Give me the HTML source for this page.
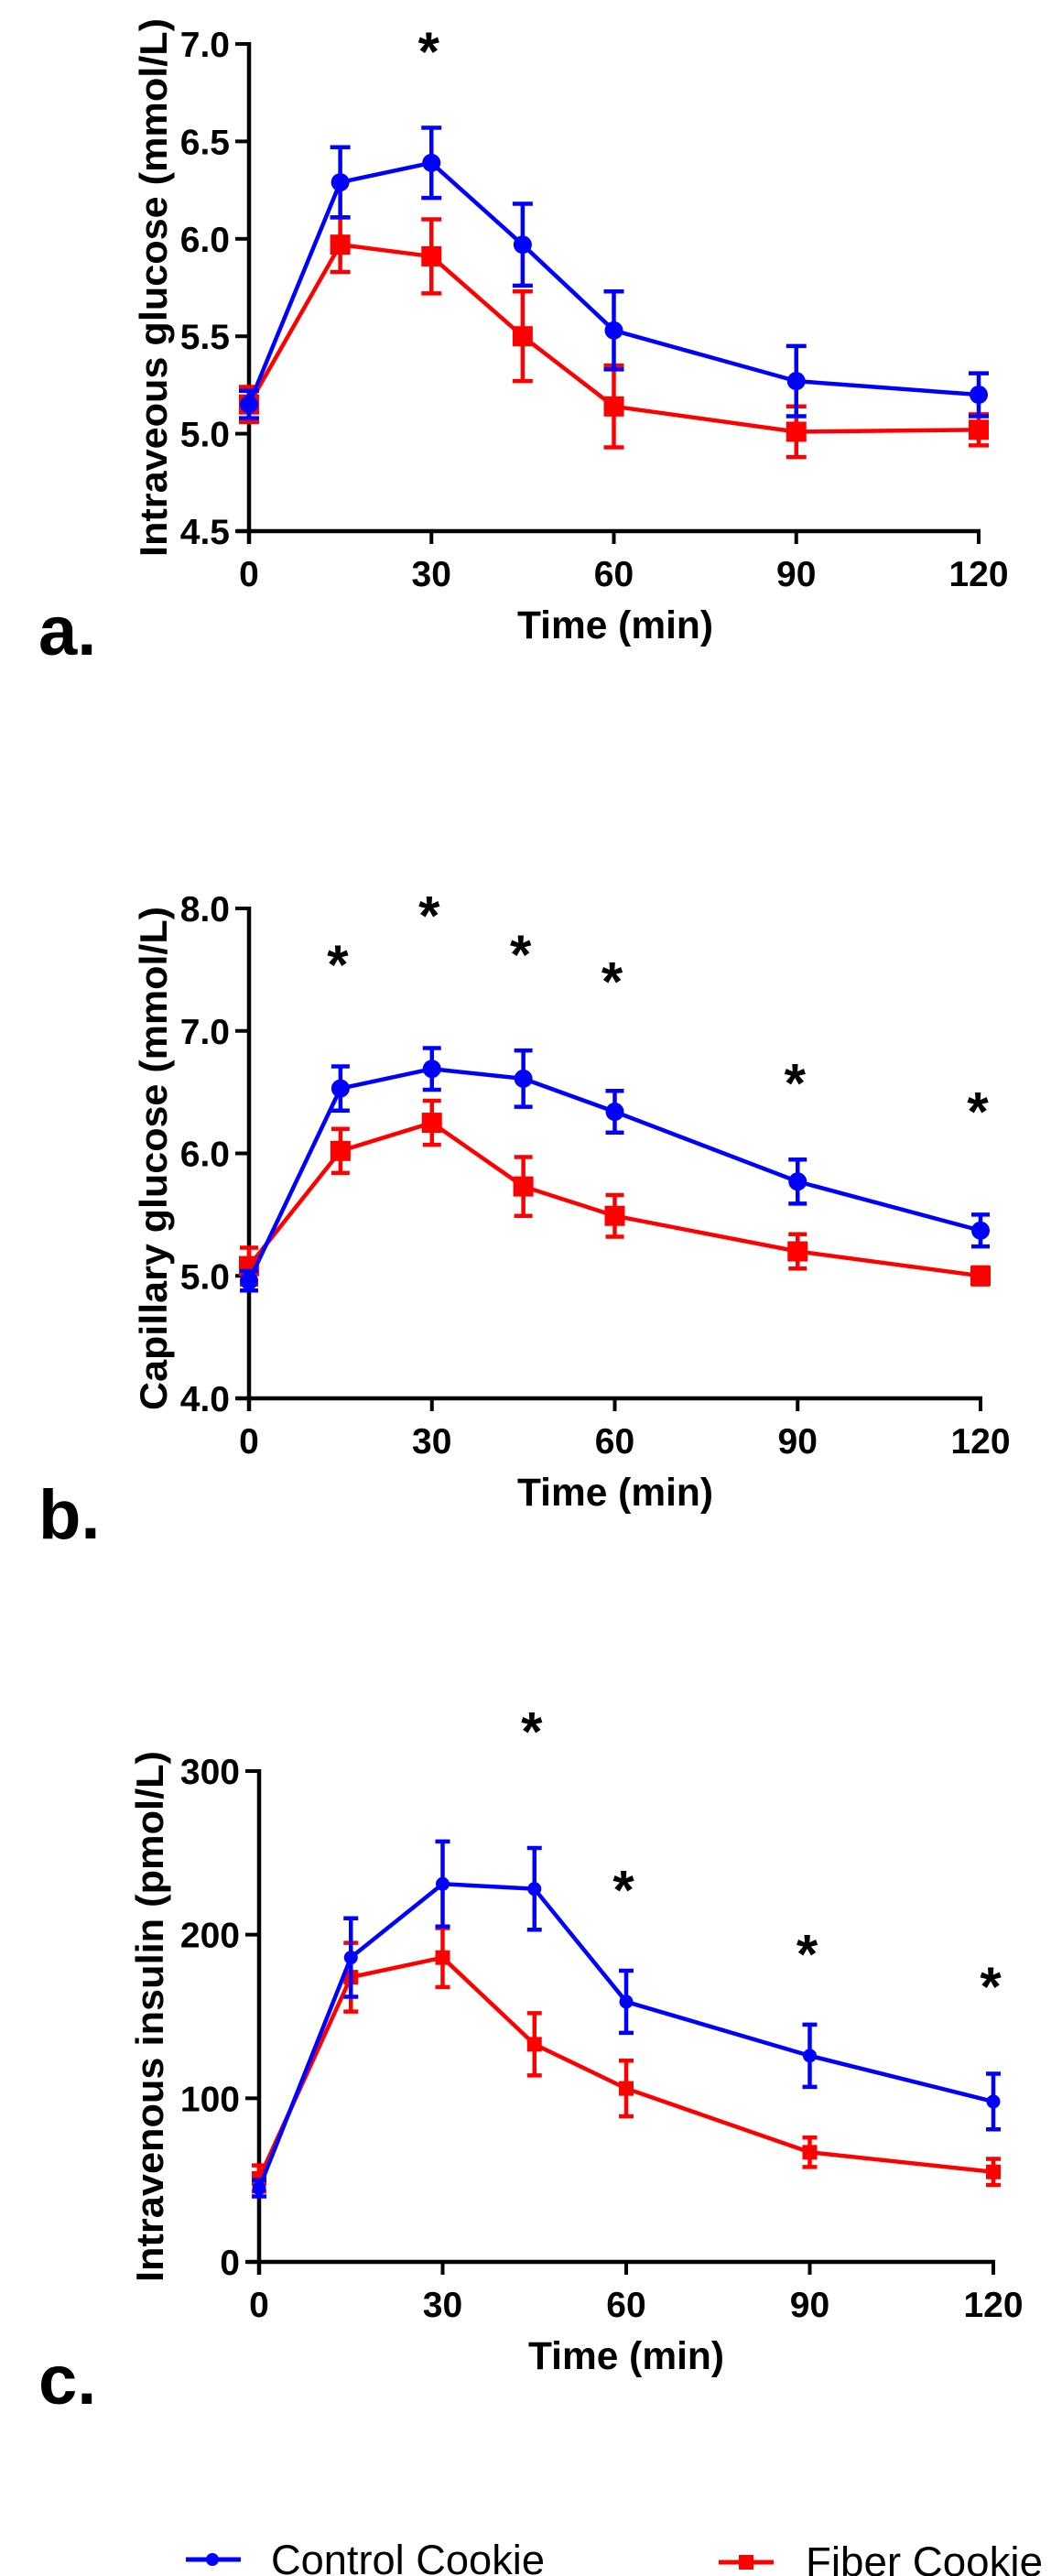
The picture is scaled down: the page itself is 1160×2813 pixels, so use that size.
<!DOCTYPE html>
<html><head><meta charset="utf-8"><style>
html,body{margin:0;padding:0;background:#fff;width:1160px;height:2813px;overflow:hidden}
svg{display:block}
text{font-family:"Liberation Sans",Arial,sans-serif}
</style></head><body>
<svg id="fig" width="1160" height="2813" viewBox="0 0 1160 2813" xmlns="http://www.w3.org/2000/svg"></svg>
<script>
// ---- data ----
const times = [0, 15, 30, 45, 60, 90, 120];
const xTicks = [0, 30, 60, 90, 120];
// panel a: intravenous glucose (mmol/L)
const aControl = [5.15, 6.29, 6.39, 5.97, 5.53, 5.27, 5.20];
const aControlErr = [0.07, 0.18, 0.18, 0.21, 0.20, 0.18, 0.11];
const aFiber = [5.15, 5.97, 5.91, 5.50, 5.14, 5.01, 5.02];
const aFiberErr = [0.09, 0.14, 0.19, 0.23, 0.21, 0.13, 0.08];
const aTicks = [4.5, 5.0, 5.5, 6.0, 6.5, 7.0];
const aTickLabels = ["4.5", "5.0", "5.5", "6.0", "6.5", "7.0"];
const aStars = [30];
// panel b: capillary glucose (mmol/L)
const bControl = [4.96, 6.53, 6.69, 6.61, 6.34, 5.77, 5.37];
const bControlErr = [0.08, 0.18, 0.17, 0.23, 0.17, 0.18, 0.13];
const bFiber = [5.08, 6.02, 6.25, 5.73, 5.49, 5.20, 5.00];
const bFiberErr = [0.15, 0.18, 0.18, 0.24, 0.17, 0.14, 0.07];
const bTicks = [4, 5, 6, 7, 8];
const bTickLabels = ["4.0", "5.0", "6.0", "7.0", "8.0"];
const bStars = [15, 30, 45, 60, 90, 120];
const bStarValues = [7.62, 8.02, 7.70, 7.48, 6.65, 6.42];
// panel c: intravenous insulin (pmol/L)
const cControl = [45, 186, 231, 228, 159, 126, 98];
const cControlErr = [5, 24, 26, 25, 19, 19, 17];
const cFiber = [51, 174, 186, 133, 106, 67, 55];
const cFiberErr = [8, 21, 18, 19, 17, 9, 8];
const cTicks = [0, 100, 200, 300];
const cTickLabels = ["0", "100", "200", "300"];
const cStars = [45, 60, 90, 120];
const cStarValues = [330, 233, 194, 174];

const NS = "http://www.w3.org/2000/svg";
const svg = document.getElementById("fig");
function mk(tag, attrs, parent) {
  const e = document.createElementNS(NS, tag);
  for (const k in attrs) e.setAttribute(k, attrs[k]);
  (parent || svg).appendChild(e);
  return e;
}

function panel(cfg) {
  const g = mk("g", {});
  
  
  const X = t => cfg.x0 + (t - 0) / 120 * (cfg.x1 - cfg.x0);
  const Y = v => cfg.yb + (v - cfg.vmin) / (cfg.vmax - cfg.vmin) * (cfg.yt - cfg.yb);
  const ya = mk("line", {x1: cfg.x0, y1: Y(cfg.vmax) - 2, x2: cfg.x0, y2: cfg.yb + 14, stroke: "#000", "stroke-width": 4.5}, g);
  
  
  const xa = mk("line", {x1: cfg.x0 - 14, y1: cfg.yb, x2: cfg.x1 + 2, y2: cfg.yb, stroke: "#000", "stroke-width": 4.5}, g);
  
  
  cfg.ticks.forEach((v, i) => {
    const y = Y(v);
    mk("line", {x1: cfg.x0 - 15, y1: y, x2: cfg.x0, y2: y, stroke: "#000", "stroke-width": 4}, g);
    const t = mk("text", {x: cfg.x0 - 21, y: y + 14, "text-anchor": "end", "font-size": 39, "font-weight": "bold"}, g);
    
    
    t.textContent = cfg.tickLabels[i];
  });
  xTicks.forEach(tk => {
    const x = X(tk);
    mk("line", {x1: x, y1: cfg.yb, x2: x, y2: cfg.yb + 14, stroke: "#000", "stroke-width": 4}, g);
    const t = mk("text", {x: x, y: cfg.yb + 60, "text-anchor": "middle", "font-size": 39, "font-weight": "bold"}, g);
    
    
    t.textContent = String(tk);
  });
  const yt = mk("text", {x: 0, y: 0, "text-anchor": "middle", "font-size": 42, "font-weight": "bold",
    transform: "translate(" + (cfg.titleX) + "," + cfg.titleCY + ") rotate(-90)", textLength: cfg.titleLen, lengthAdjust: "spacingAndGlyphs"}, g);
  
  
  yt.textContent = cfg.title;
  const xt = mk("text", {x: cfg.xTitleX, y: cfg.yb + 117, "text-anchor": "middle", "font-size": 43, "font-weight": "bold", textLength: 214, lengthAdjust: "spacingAndGlyphs"}, g);
  
  
  xt.textContent = "Time (min)";
  const pl = mk("text", {x: 42, y: cfg.labelY, "font-size": 76, "font-weight": "bold"}, g);
  
  
  pl.textContent = cfg.label;
  function series(vals, errs, color, shape, nm) {
    const sg = mk("g", {}, g);
    
    
    const pts = times.map((t, i) => X(t) + "," + Y(vals[i])).join(" ");
    const line = mk("polyline", {points: pts, fill: "none", stroke: color, "stroke-width": 4.5, "stroke-linejoin": "round"}, sg);
    
    
    times.forEach((t, i) => {
      const x = X(t), yTop = Y(vals[i] + errs[i]), yBot = Y(vals[i] - errs[i]);
      const cw = cfg.cap;
      const eb = mk("path", {d: "M" + x + " " + yTop + "V" + yBot + "M" + (x - cw) + " " + yTop + "H" + (x + cw) + "M" + (x - cw) + " " + yBot + "H" + (x + cw),
        stroke: color, "stroke-width": 4.5, fill: "none"}, sg);
      
      
      let m;
      if (shape === "circle") m = mk("circle", {cx: x, cy: Y(vals[i]), r: cfg.r, fill: color}, sg);
      else m = mk("rect", {x: x - cfg.sq, y: Y(vals[i]) - cfg.sq, width: cfg.sq * 2, height: cfg.sq * 2, fill: color}, sg);
      
      
    });
  }
  series(cfg.fiber, cfg.fiberErr, "#ff0000", "square", "fiber-series");
  series(cfg.control, cfg.controlErr, "#0000ff", "circle", "control-series");
  cfg.stars.forEach((t, i) => {
    const st = mk("text", {x: X(t) - 3, y: Y(cfg.starVals[i]) + 31, "text-anchor": "middle", "font-size": 60, "font-weight": "bold"}, g);
    
    
    st.textContent = "*";
  });
}

panel({name: "panel-a", x0: 272, x1: 1069, yb: 580, yt: 48, vmin: 4.5, vmax: 7.0,
  ticks: aTicks, tickLabels: aTickLabels, control: aControl, controlErr: aControlErr, fiber: aFiber, fiberErr: aFiberErr,
  stars: aStars, starVals: [7.01], title: "Intraveous glucose (mmol/L)", titleX: 182, titleCY: 314, titleLen: 588,
  xTitleX: 672, label: "a.", labelY: 715, cap: 11, r: 10, sq: 11});
panel({name: "panel-b", x0: 272, x1: 1071, yb: 1527, yt: 992, vmin: 4, vmax: 8,
  ticks: bTicks, tickLabels: bTickLabels, control: bControl, controlErr: bControlErr, fiber: bFiber, fiberErr: bFiberErr,
  stars: bStars, starVals: bStarValues, title: "Capillary  glucose (mmol/L)", titleX: 182, titleCY: 1265, titleLen: 550,
  xTitleX: 672, label: "b.", labelY: 1680, cap: 10, r: 10, sq: 11});
panel({name: "panel-c", x0: 283, x1: 1085, yb: 2470, yt: 1934, vmin: 0, vmax: 300,
  ticks: cTicks, tickLabels: cTickLabels, control: cControl, controlErr: cControlErr, fiber: cFiber, fiberErr: cFiberErr,
  stars: cStars, starVals: cStarValues, title: "Intravenous insulin (pmol/L)", titleX: 178, titleCY: 2202, titleLen: 580,
  xTitleX: 684, label: "c.", labelY: 2625, cap: 8, r: 7.5, sq: 8});

const lg = mk("g", {});


const e1 = mk("g", {}, lg);


mk("line", {x1: 203, y1: 2795, x2: 263, y2: 2795, stroke: "#0000ff", "stroke-width": 5}, e1);
mk("circle", {cx: 232, cy: 2795, r: 7, fill: "#0000ff"}, e1);
const t1 = mk("text", {x: 296, y: 2811, "font-size": 45, textLength: 299, lengthAdjust: "spacingAndGlyphs"}, e1);


t1.textContent = "Control Cookie";
const e2 = mk("g", {}, lg);


mk("line", {x1: 785, y1: 2798, x2: 845, y2: 2798, stroke: "#ff0000", "stroke-width": 5}, e2);
mk("rect", {x: 807, y: 2790, width: 16, height: 16, fill: "#ff0000"}, e2);
const t2 = mk("text", {x: 880, y: 2813, "font-size": 45, textLength: 259, lengthAdjust: "spacingAndGlyphs"}, e2);


t2.textContent = "Fiber Cookie";
</script>
</body></html>
